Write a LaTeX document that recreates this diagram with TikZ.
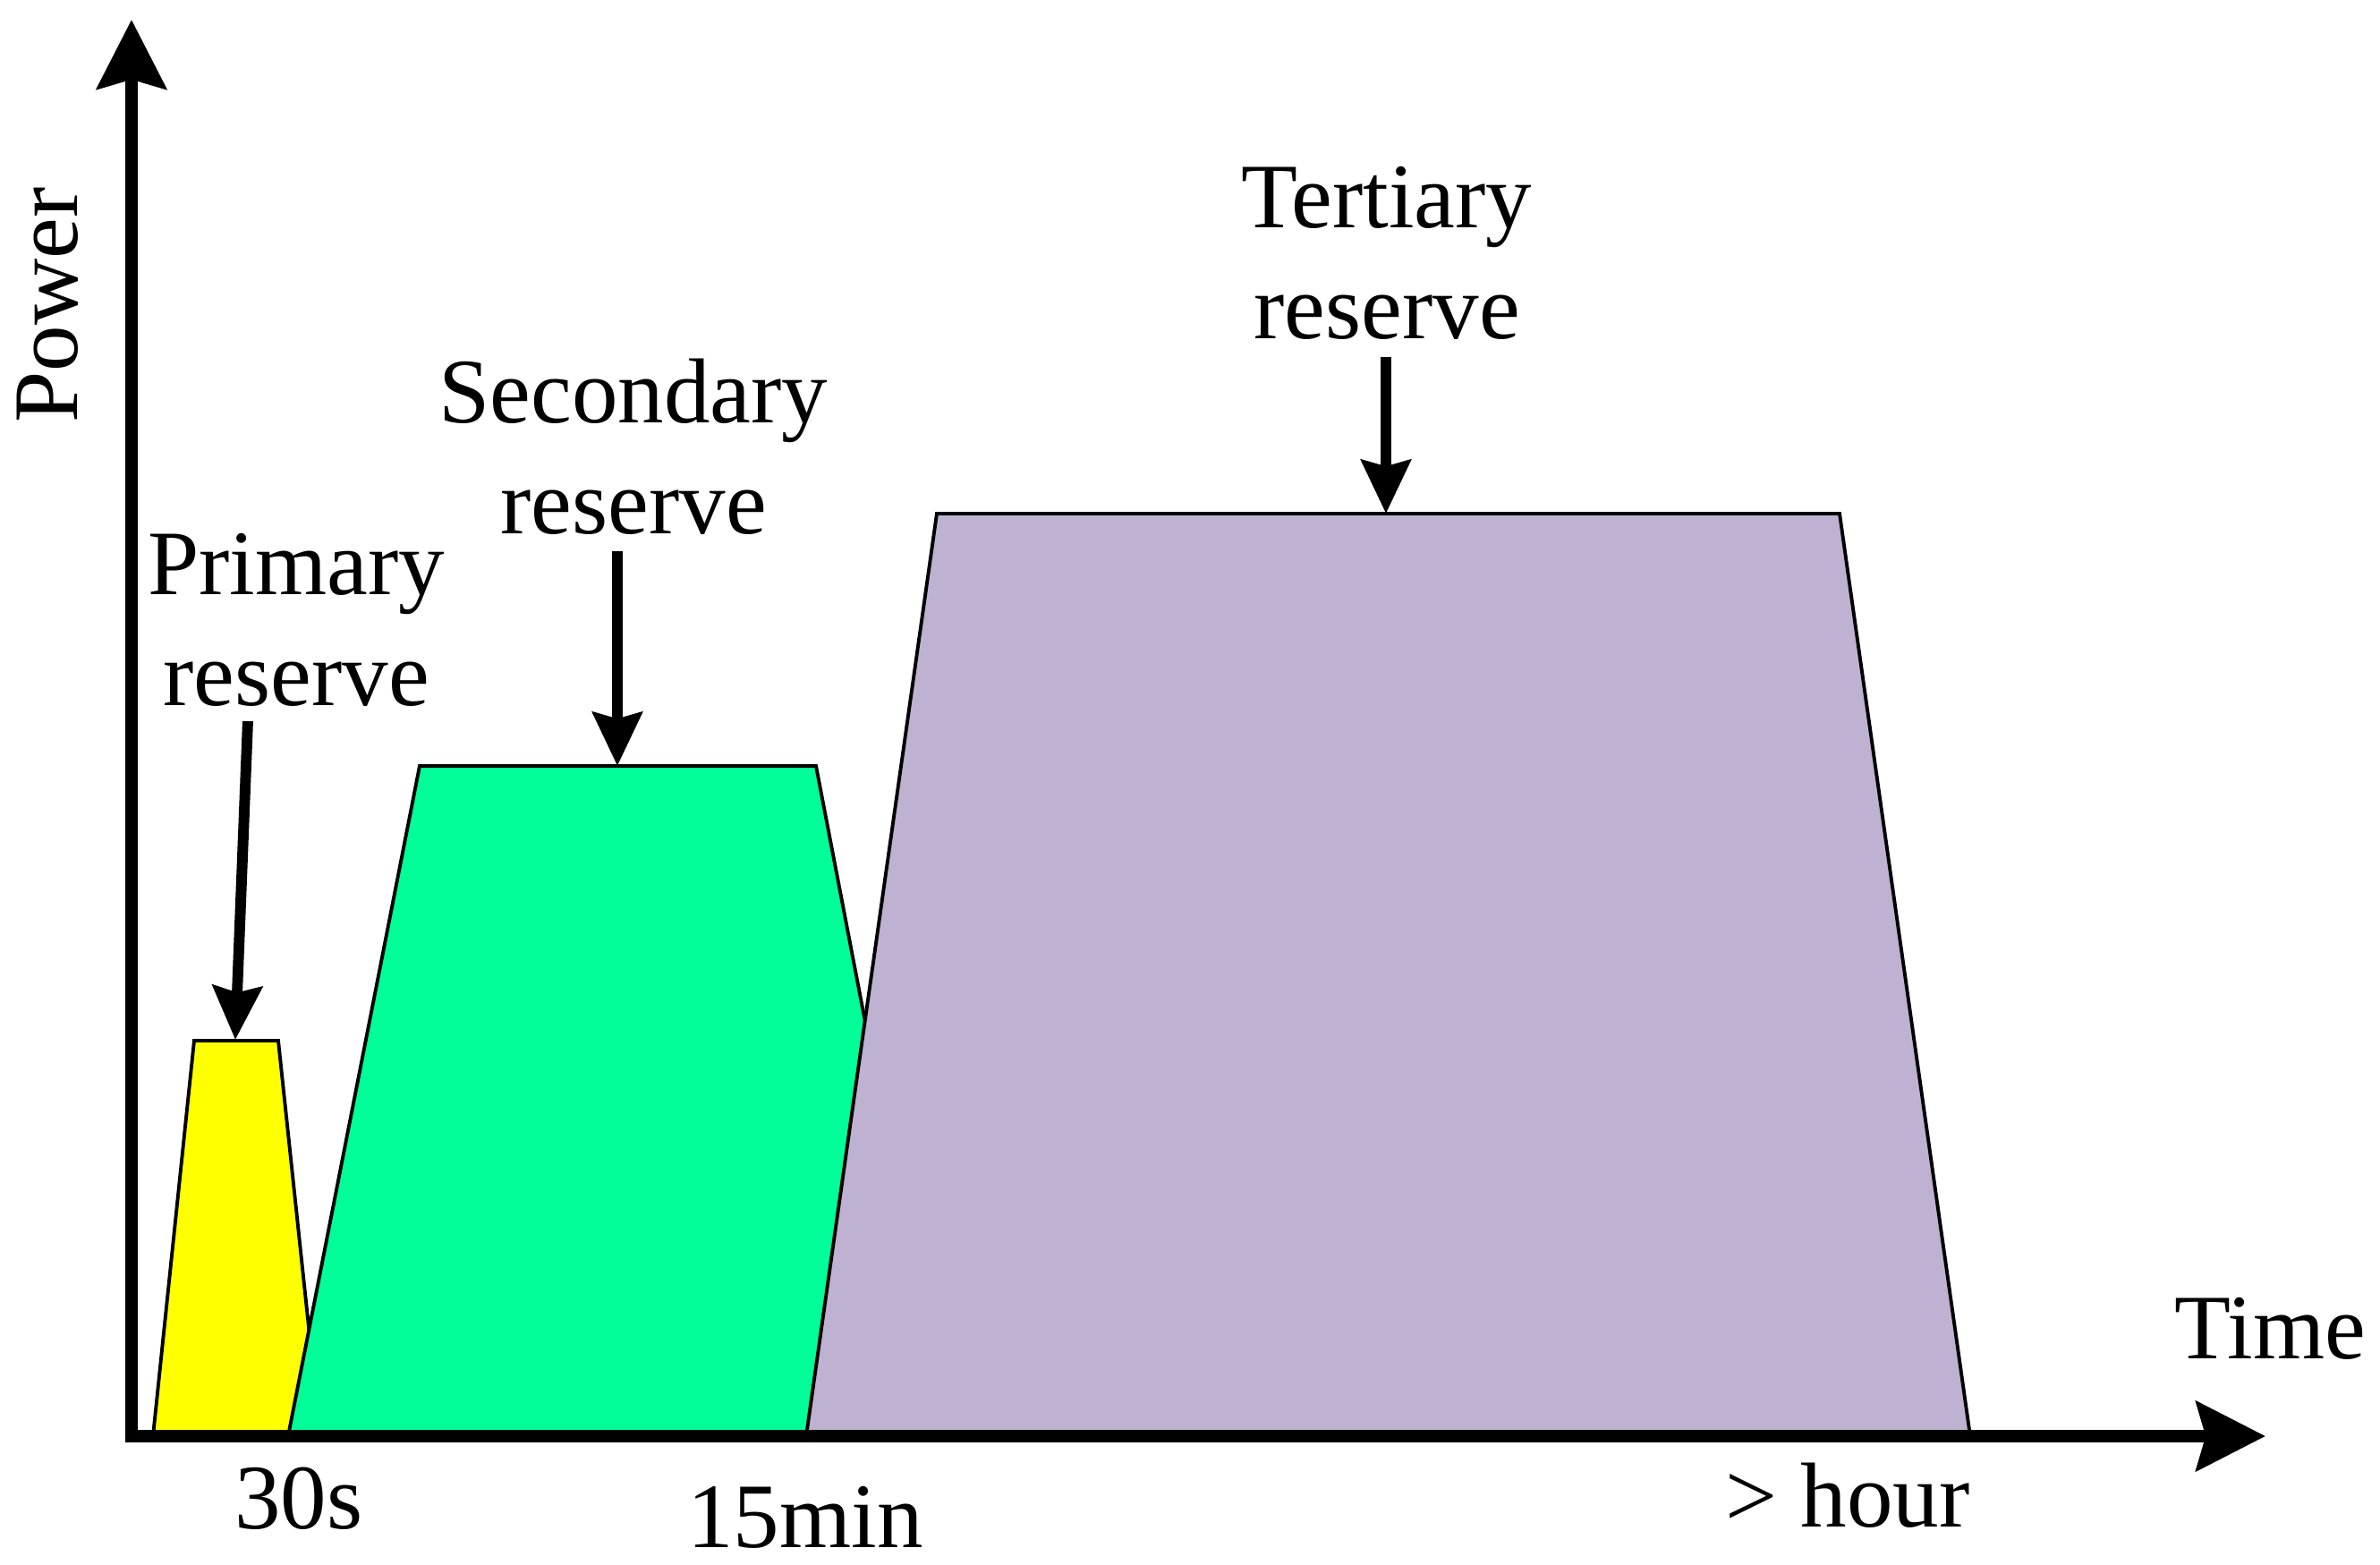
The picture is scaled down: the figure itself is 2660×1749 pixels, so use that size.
\documentclass[tikz,border=0pt]{standalone}
\usepackage{fontspec}
\setmainfont{Liberation Serif}
\usetikzlibrary{arrows.meta}

\definecolor{primcol}{RGB}{255,255,0}
\definecolor{seccol}{RGB}{0,255,153}
\definecolor{tercol}{RGB}{191,177,209}

\begin{document}
\begin{tikzpicture}[x=0.01cm, y=-0.01cm,
        label/.style={font={\fontsize{29.3pt}{35.3pt}\selectfont}, inner sep=0pt, align=center},
        block/.style={draw=black, line width=1.1pt, line join=miter},
        axis/.style={line width=3.9pt, line join=miter, {Stealth[length=22pt,width=22pt,inset=3pt]}-{Stealth[length=22pt,width=22pt,inset=3pt]}},
        pointer/.style={line width=3.4pt, -{Stealth[length=17pt,width=15.6pt,inset=2pt]}}]
        \useasboundingbox (0,0) rectangle (2660,1749);

        % Reserve blocks
        \fill[primcol] (171,1605) -- (217,1163) -- (311,1163) -- (358,1605) -- cycle;
        \draw[block] (171,1605) -- (217,1163) -- (311,1163) -- (358,1605);
        \fill[seccol] (322,1605) -- (469,856) -- (912,856) -- (1056,1605) -- cycle;
        \draw[block] (322,1605) -- (469,856) -- (912,856) -- (1056,1605);
        \fill[tercol] (901,1605) -- (1047,574) -- (2056,574) -- (2202,1605) -- cycle;
        \draw[block] (901,1605) -- (1047,574) -- (2056,574) -- (2202,1605);

        % Axes
        \coordinate (ytip) at (147,22);
        \coordinate (xtip) at (2532,1605);
        \draw[axis] (ytip) |- (xtip);
        \node[label, rotate=90, anchor=base] (power) at (87,341) {Power};
        \node[label, anchor=base] (time) at (2537,1518) {Time};
        \node[label, anchor=base] (t30) at (334,1708) {30s};
        \node[label, anchor=base] (t15) at (900,1729) {15min};
        \node[label, anchor=base] (thour) at (2065,1706) {> hour};

        % Labels and arrows
        \node[label, anchor=south] (prim) at (331,790) {Primary\\reserve};
        \node[label, anchor=south] (sec) at (708,598) {Secondary\\reserve};
        \node[label, anchor=south] (ter) at (1550,380) {Tertiary\\reserve};
        \coordinate (primtop) at (263,1162);
        \coordinate (sectop) at (690,856);
        \coordinate (tertop) at (1549,574);
        \draw[pointer] ([xshift=-0.54cm, yshift=-0.16cm]prim.south) -- (primtop);
        \draw[pointer] ([xshift=-0.18cm, yshift=-0.18cm]sec.south) -- (sectop);
        \draw[pointer] ([xshift=-0.01cm, yshift=-0.19cm]ter.south) -- (tertop);
    \end{tikzpicture}
\end{document}
